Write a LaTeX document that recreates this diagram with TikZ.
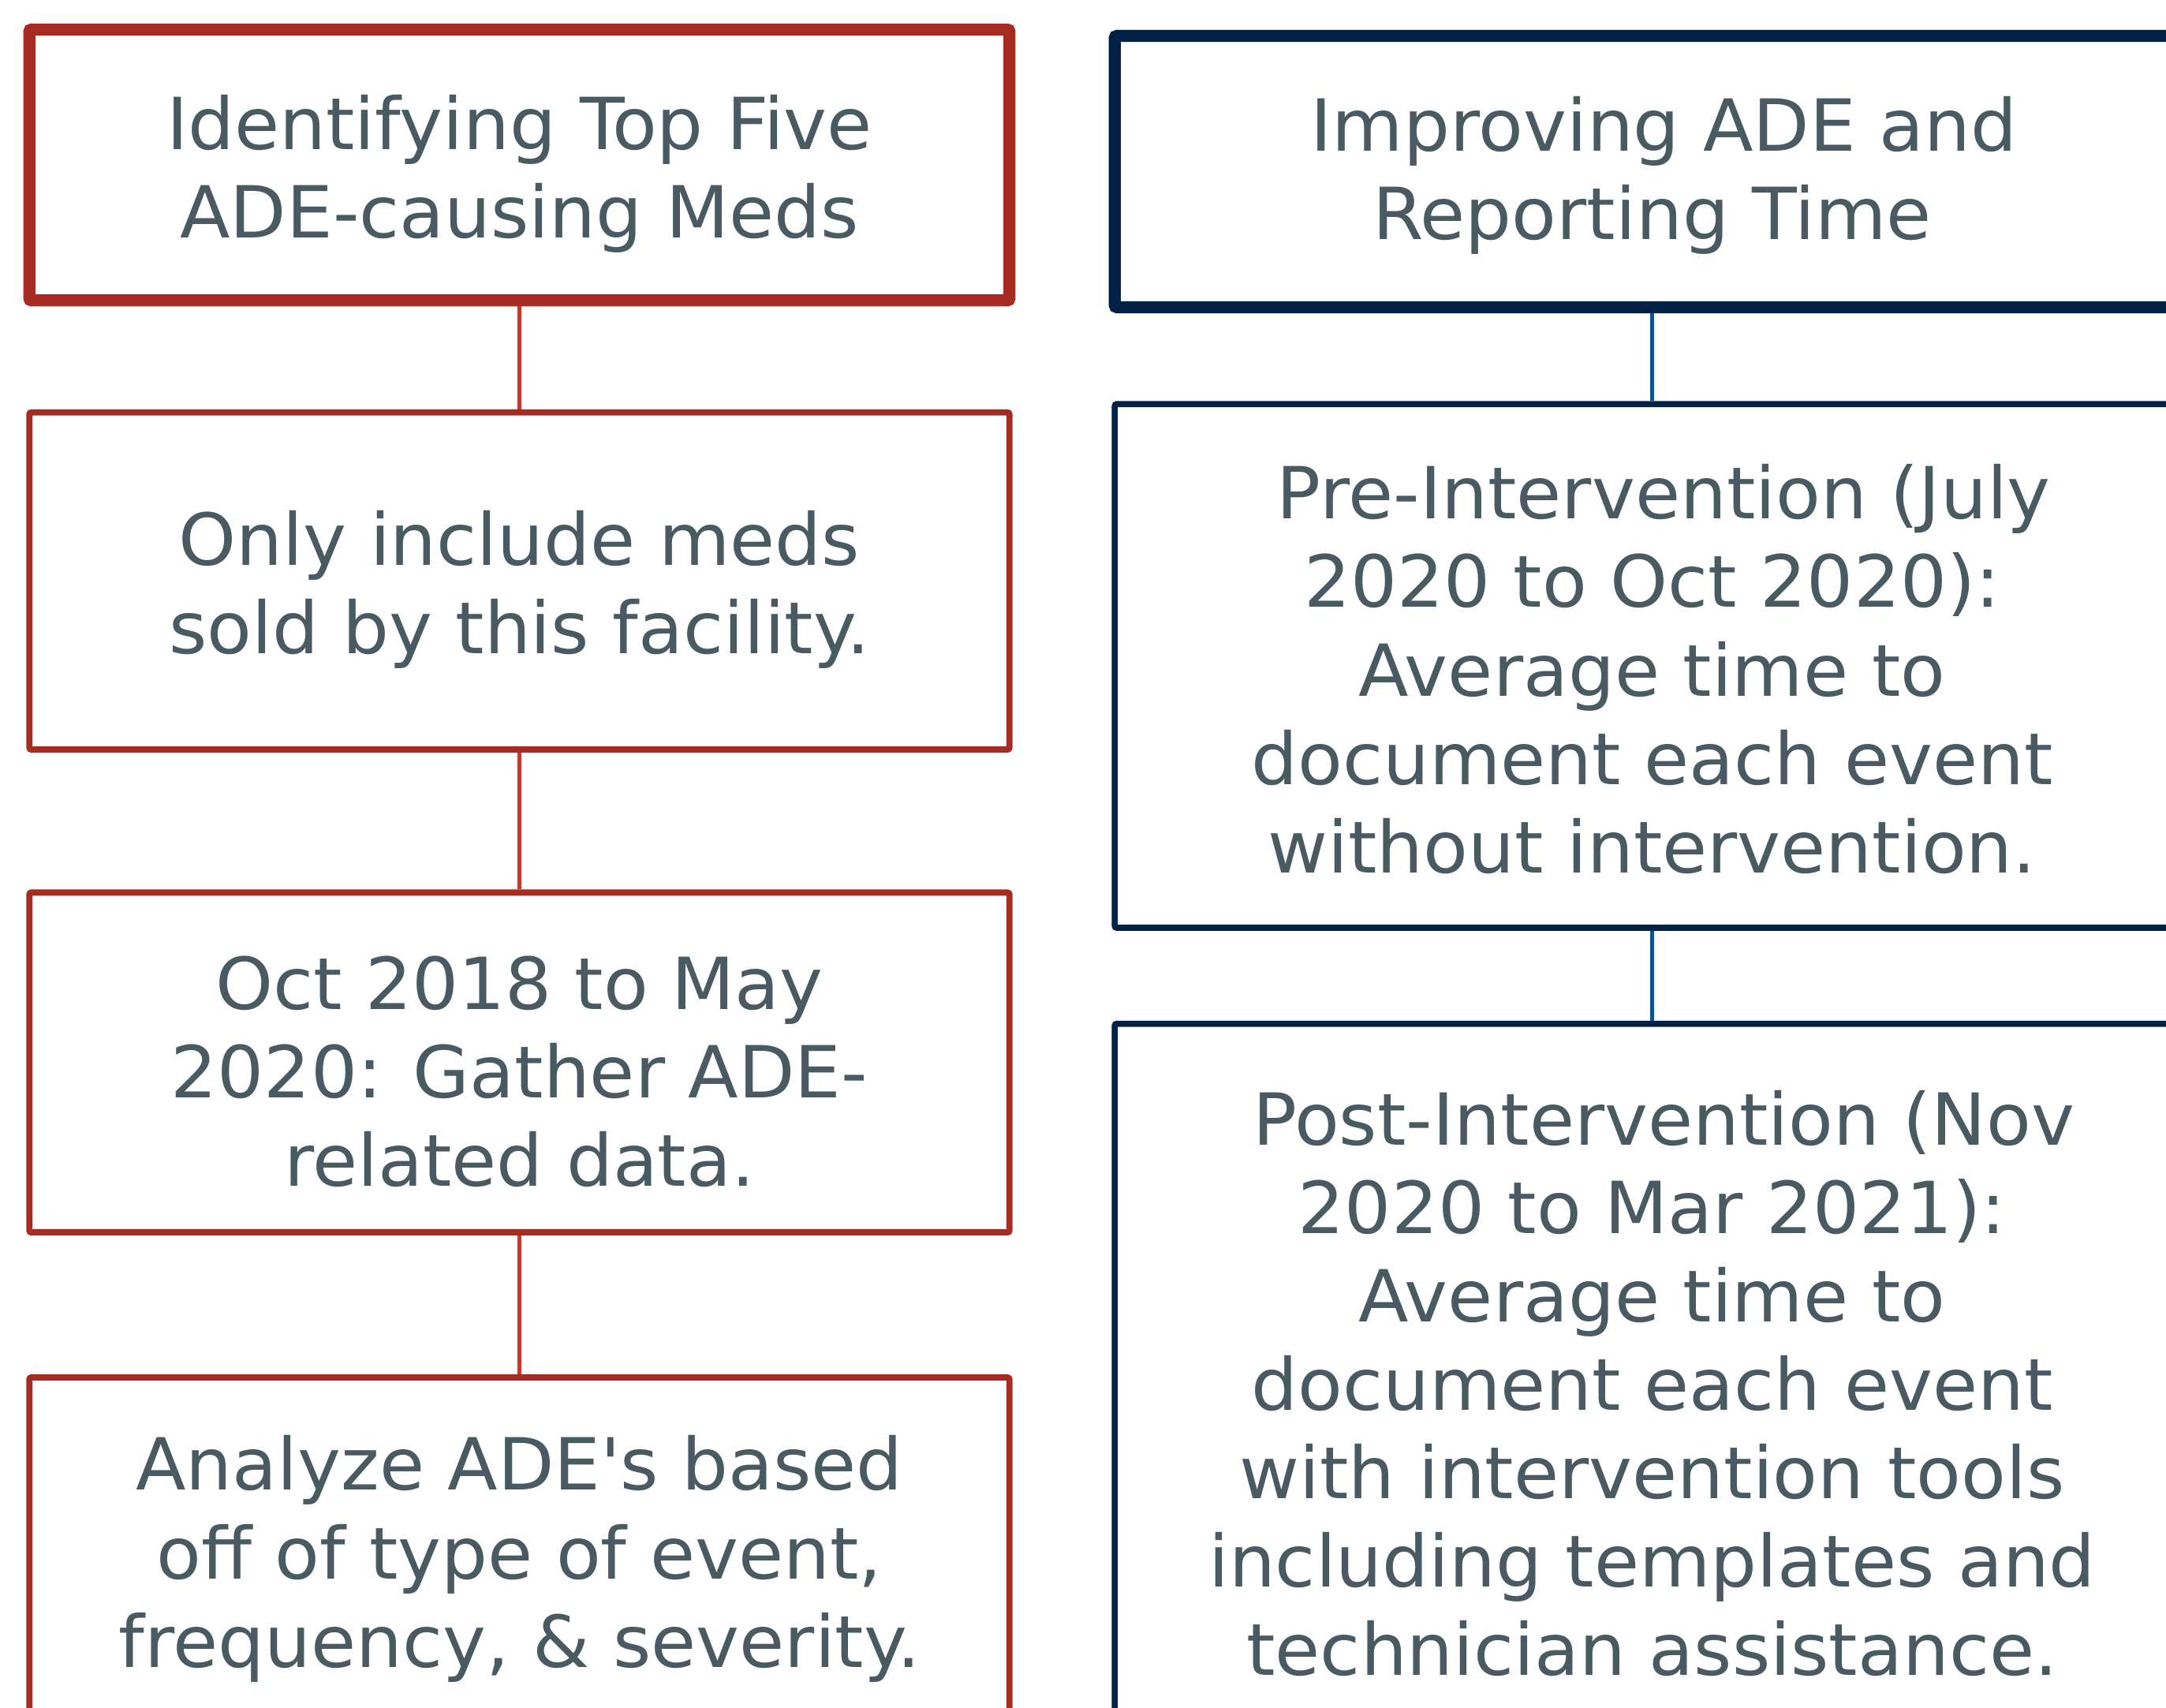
\documentclass[tikz,border=0pt]{standalone}
\usepackage{fontspec}
\setmainfont{DejaVu Sans}[FakeStretch=1.02]
\definecolor{adered}{HTML}{A62B22}
\definecolor{adelink}{HTML}{C23A2A}
\definecolor{adenavy}{HTML}{022144}
\definecolor{adeblue}{HTML}{0C5396}
\definecolor{adetext}{HTML}{4A5A62}
\tikzset{
  stage/.style={rectangle, align=center, text=adetext, rounded corners=1.5pt,
    font=\fontsize{52}{64}\selectfont},
  redhead/.style={stage, draw=adered, line width=8.7pt},
  redstage/.style={stage, draw=adered, line width=4.5pt},
  navyhead/.style={stage, draw=adenavy, line width=8.7pt},
  navystage/.style={stage, draw=adenavy, line width=4.5pt},
  redlink/.style={draw=adelink, line width=3pt},
  bluelink/.style={draw=adeblue, line width=3.2pt}
}
% text sits a little below the middle of each box
\newcommand{\lowstrut}[1][52pt]{\rule{0pt}{#1}}
\begin{document}
\begin{tikzpicture}[x=1pt,y=-1pt]
  \useasboundingbox (0,0) rectangle (1568,1236);
  \clip (0,0) rectangle (1568,1236);
  % left column
  \node[redhead, minimum width=709.5pt, minimum height=196pt] (lhead) at (376,119.4)
    {\lowstrut Identifying Top Five\\ADE-causing Meds};
  \node[redstage, minimum width=709.5pt, minimum height=244pt] (lonly) at (376,420.5)
    {\lowstrut Only include meds\\sold by this facility.};
  \node[redstage, minimum width=709.5pt, minimum height=246pt] (lgather) at (376,769)
    {\lowstrut Oct 2018 to May\\2020: Gather ADE-\\related data.};
  \node[redstage, minimum width=709.5pt, minimum height=250pt] (lanalyze) at (376,1122)
    {\lowstrut Analyze ADE\textquotesingle s based\\off of type of event,\\frequency, \& severity.};
  \draw[redlink] (lhead) -- (lonly);
  \draw[redlink] (lonly) -- (lgather);
  \draw[redlink] (lgather) -- (lanalyze);
  % right column
  \node[navyhead, minimum width=778pt, minimum height=196.3pt] (rhead) at (1196,124.2)
    {\lowstrut[45pt] Improving ADE and\\Reporting Time};
  \node[navystage, minimum width=778pt, minimum height=379pt] (rpre) at (1196,482)
    {\lowstrut[44pt] Pre-Intervention (July\\2020 to Oct 2020):\\Average time to\\document each event\\without intervention.};
  \node[navystage, minimum width=778pt, minimum height=518pt] (rpost) at (1196,1000)
    {\lowstrut[42pt] Post-Intervention (Nov\\2020 to Mar 2021):\\Average time to\\document each event\\with intervention tools\\including templates and\\technician assistance.};
  \draw[bluelink] (rhead) -- (rpre);
  \draw[bluelink] (rpre) -- (rpost);
\end{tikzpicture}
\end{document}
